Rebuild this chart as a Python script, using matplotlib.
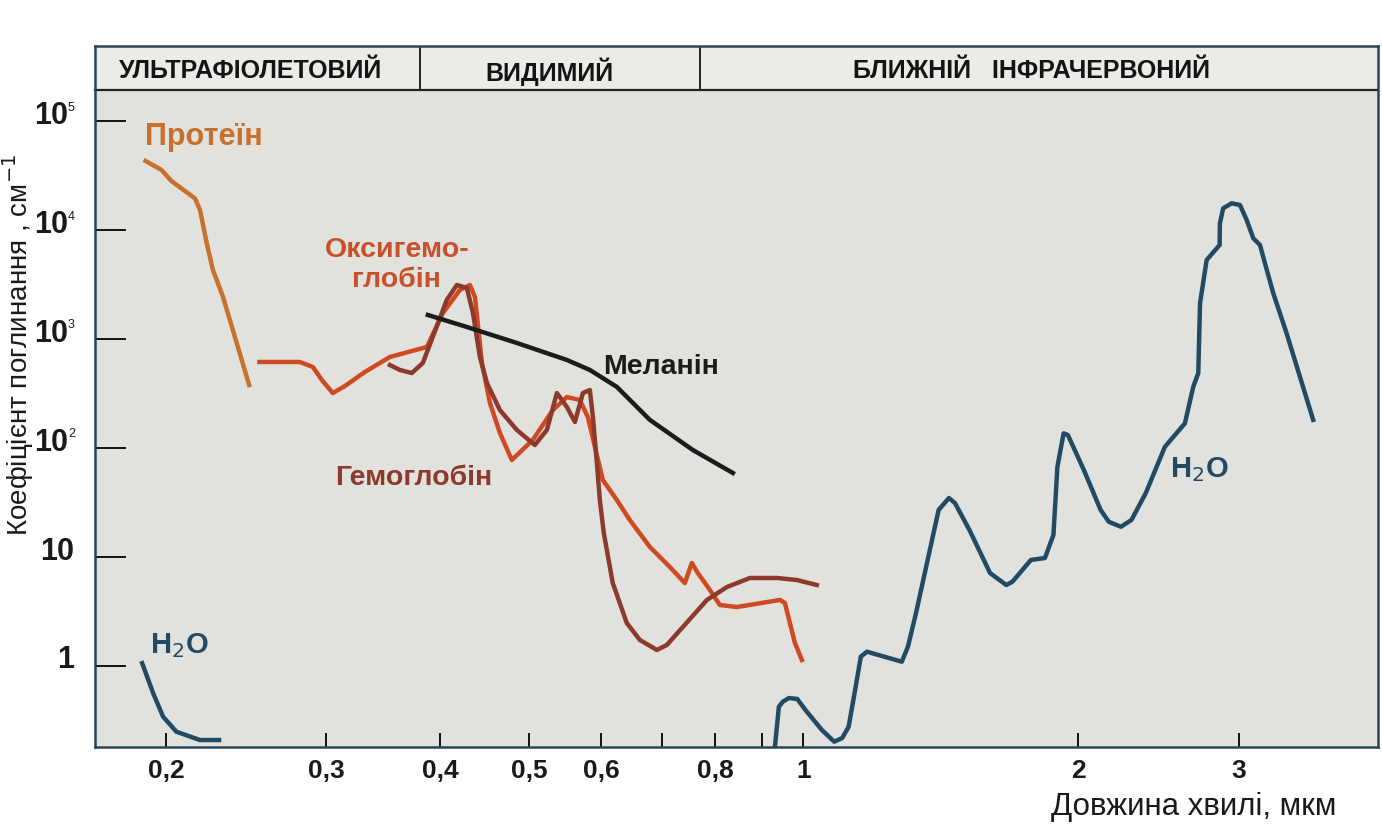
import numpy as np
import matplotlib
matplotlib.use("Agg")
import matplotlib.pyplot as plt
from matplotlib.patches import Rectangle
from matplotlib.ticker import NullLocator

plt.rcParams['font.family'] = ['Liberation Sans', 'DejaVu Sans']

# wavelength (um) / absorption coefficient (cm^-1)
protein_wl = [0.190, 0.1978, 0.2028, 0.2152, 0.2180, 0.2217, 0.2252, 0.2310, 0.2468]
protein_k = [43400, 35900, 28400, 19700, 15400, 7660, 4330, 2460, 380]

water_uv_wl = [0.188, 0.1937, 0.1986, 0.2054, 0.218, 0.230]
water_uv_k = [1.11, 0.561, 0.342, 0.249, 0.209, 0.209]

water_ir_wl = [0.930, 0.940, 0.9495, 0.964, 0.9847, 1.0053, 1.048, 1.081, 1.103, 1.121,
               1.138, 1.156, 1.174, 1.282, 1.302, 1.329, 1.371, 1.407, 1.444, 1.466,
               1.521, 1.602, 1.669, 1.695, 1.776, 1.840, 1.880, 1.899, 1.929, 1.950,
               2.030, 2.118, 2.162, 2.229, 2.289, 2.373, 2.491, 2.620, 2.676, 2.710,
               2.722, 2.768, 2.860, 2.862, 2.886, 2.948, 3.011, 3.062, 3.114, 3.167,
               3.207, 3.275, 3.387, 3.622]
water_ir_k = [0.17, 0.423, 0.470, 0.508, 0.498, 0.394, 0.258, 0.2018, 0.218, 0.277,
              0.565, 1.217, 1.353, 1.095, 1.504, 3.07, 10.09, 27.1, 34.9, 31.4,
              17.7, 7.14, 5.54, 5.94, 9.41, 9.81, 15.96, 67.6, 137, 132,
              63.1, 27.1, 21.1, 19.0, 21.9, 38.5, 103, 169, 367, 488,
              2140, 5350, 7340, 11600, 15950, 17740, 17100, 12470, 8460, 7340,
              4990, 2645, 1135, 182]

oxy_wl = [0.2533, 0.2804, 0.2899, 0.2965, 0.3048, 0.3143, 0.3305, 0.3521, 0.3865, 0.4025,
          0.4201, 0.4309, 0.4364, 0.4442, 0.4532, 0.4648, 0.4790, 0.5050, 0.5313, 0.5504,
          0.5687, 0.5804, 0.5908, 0.6028, 0.6245, 0.6452, 0.6787, 0.7138, 0.7414, 0.7545,
          0.7661, 0.7898, 0.8098, 0.8455, 0.9424, 0.9544, 0.9665, 0.9788, 0.9963]
oxy_k = [619, 619, 557, 423, 321, 372, 501, 688, 850, 1744,
         2836, 3152, 2446, 606, 260, 138, 77.9, 119, 224, 295,
         277, 193, 102.6, 51.0, 33.4, 21.9, 12.4, 8.11, 5.78, 8.83,
         7.14, 4.99, 3.63, 3.48, 4.04, 3.79, 2.48, 1.63, 1.135]

hb_wl = [0.3521, 0.3610, 0.3721, 0.3826, 0.3923, 0.4064, 0.4169, 0.4276, 0.4342, 0.4419,
         0.4498, 0.4648, 0.4851, 0.5076, 0.5233, 0.5367, 0.5504, 0.5617, 0.5731, 0.5833,
         0.5878, 0.5937, 0.5982, 0.6042, 0.6180, 0.6403, 0.6618, 0.6908, 0.7084, 0.7376,
         0.7838, 0.8244, 0.8736, 0.9354, 0.9837, 1.0346]
hb_k = [580, 523, 490, 606, 1050, 2296, 3152, 2959, 1744, 688,
        397, 224, 147, 107, 147, 321, 239, 174, 321, 342,
        193, 73.1, 33.4, 16.6, 5.78, 2.48, 1.733, 1.403, 1.559, 2.28,
        4.04, 5.31, 6.43, 6.43, 6.16, 5.54]

melanin_wl = [0.3875, 0.4276, 0.4851, 0.5504, 0.5833, 0.6245, 0.6787, 0.7565, 0.837]
melanin_k = [1672, 1297, 925, 646, 523, 365, 182, 96.2, 59.2]

x_ticks = [0.2, 0.3, 0.4, 0.5, 0.6, 0.7, 0.8, 0.9, 1, 2, 3]
x_labels = ['0,2', '0,3', '0,4', '0,5', '0,6', '', '0,8', '', '1', '2', '3']
y_ticks = [1, 10, 1e2, 1e3, 1e4, 1e5]
y_base = ['1', '10', '10', '10', '10', '10']
y_exp = ['', '', '2', '3', '4', '5']

bands = ['УЛЬТРАФІОЛЕТОВИЙ', 'ВИДИМИЙ', 'БЛИЖНІЙ   ІНФРАЧЕРВОНИЙ']
band_centers = [0.248, 0.527, 1.78]
band_edges = [0.38, 0.77]

c_protein = '#c8702e'
c_oxy = '#cf4a22'
c_hb = '#8c3a2c'
c_mel = '#1b1b1b'
c_water = '#234a63'

fig = plt.figure(figsize=(13.82, 8.25), dpi=100)
ax = fig.add_axes([0.0687, 0.0949, 0.9284, 0.8493])
ax.set_facecolor('#e1e1dd')
ax.set_xscale('log')
ax.set_yscale('log')
ax.set_xlim(0.1672, 4.266)
ax.set_ylim(0.1815, 4.93e5)

lw = 3.2
ax.plot(protein_wl, protein_k, color=c_protein, lw=lw, solid_joinstyle='round')
ax.plot(water_uv_wl, water_uv_k, color=c_water, lw=lw, solid_capstyle='butt')
ax.plot(water_ir_wl, water_ir_k, color=c_water, lw=lw, solid_joinstyle='round')
ax.plot(oxy_wl, oxy_k, color=c_oxy, lw=lw, solid_joinstyle='round')
ax.plot(hb_wl, hb_k, color=c_hb, lw=lw, solid_joinstyle='round')
ax.plot(melanin_wl, melanin_k, color=c_mel, lw=lw, solid_joinstyle='round')

# curve labels
lab = dict(fontweight='bold', fontsize=20.5)
ax.text(0.1897, 72100, 'Протеїн', color=c_protein, ha='left', va='center',
        fontweight='bold', fontsize=22)
ax.text(0.1920, 1.53, 'H$_2$O', color=c_water, ha='left', va='center', fontsize=21, fontweight='bold')
ax.text(2.523, 63, 'H$_2$O', color=c_water, ha='left', va='center', fontsize=21, fontweight='bold')
ax.text(0.3583, 4760, 'Оксигемо-\nглобін', color='#c8502a', ha='center', va='center',
        multialignment='center', linespacing=1.2, **lab)
ax.text(0.374, 53.3, 'Гемоглобін', color=c_hb, ha='center', va='center', **lab)
ax.text(0.603, 557, 'Меланін', color=c_mel, ha='left', va='center', **lab)

# spectral band header
hdr_bottom = 0.937
ax.add_patch(Rectangle((0, hdr_bottom), 1, 1 - hdr_bottom, transform=ax.transAxes,
                       facecolor='#ebebe8', edgecolor='none', zorder=3))
ax.plot([0, 1], [hdr_bottom, hdr_bottom], transform=ax.transAxes, color='#222222', lw=1.6,
        zorder=4, clip_on=False)
for e in band_edges:
    ax.plot([e, e], [hdr_bottom, 1], transform=ax.get_xaxis_transform(), color='#222222',
            lw=1.4, zorder=4)
for name, cx in zip(bands, band_centers):
    ax.text(cx, 0.964, name, transform=ax.get_xaxis_transform(), ha='center',
            va='center', fontsize=18, fontweight='bold', color='#141414', zorder=5)

# axes styling
for s in ax.spines.values():
    s.set_color('#2b4557')
    s.set_linewidth(1.8)
    s.set_zorder(6)

ax.xaxis.set_minor_locator(NullLocator())
ax.yaxis.set_minor_locator(NullLocator())
ax.set_xticks(x_ticks)
ax.set_xticklabels(x_labels, fontsize=19, fontweight='bold', color='#1a1a1a')
ax.tick_params(axis='x', direction='in', length=10, width=1.4, color='#111111', pad=9)
ax.set_yticks(y_ticks)
ax.set_yticklabels([''] * len(y_ticks))
ax.tick_params(axis='y', direction='in', length=22, width=1.4, color='#111111', pad=0)

for v, b, e in zip(y_ticks, y_base, y_exp):
    if e:
        ax.annotate(b, xy=(0, v), xycoords=('axes fraction', 'data'), xytext=(-19.5, 4),
                    textcoords='offset points', ha='right', va='center', fontsize=22,
                    fontweight='bold', color='#1a1a1a')
        ax.annotate(e, xy=(0, v), xycoords=('axes fraction', 'data'), xytext=(-19.5, 10),
                    textcoords='offset points', ha='left', va='center', fontsize=9,
                    color='#1a1a1a')
    else:
        ax.annotate(b, xy=(0, v), xycoords=('axes fraction', 'data'), xytext=(-15, 4),
                    textcoords='offset points', ha='right', va='center', fontsize=22,
                    fontweight='bold', color='#1a1a1a')

fig.text(18 / 1382, 1 - 345 / 825, 'Коефіцієнт поглинання , см$^{-1}$', rotation=90,
         ha='center', va='center', fontsize=20, color='#1a1a1a')
fig.text(1194 / 1382, 1 - 815 / 825, 'Довжина хвилі, мкм', ha='center', va='baseline',
         fontsize=22.5, color='#1a1a1a')

fig.savefig('out.png', dpi=100, facecolor='white')
